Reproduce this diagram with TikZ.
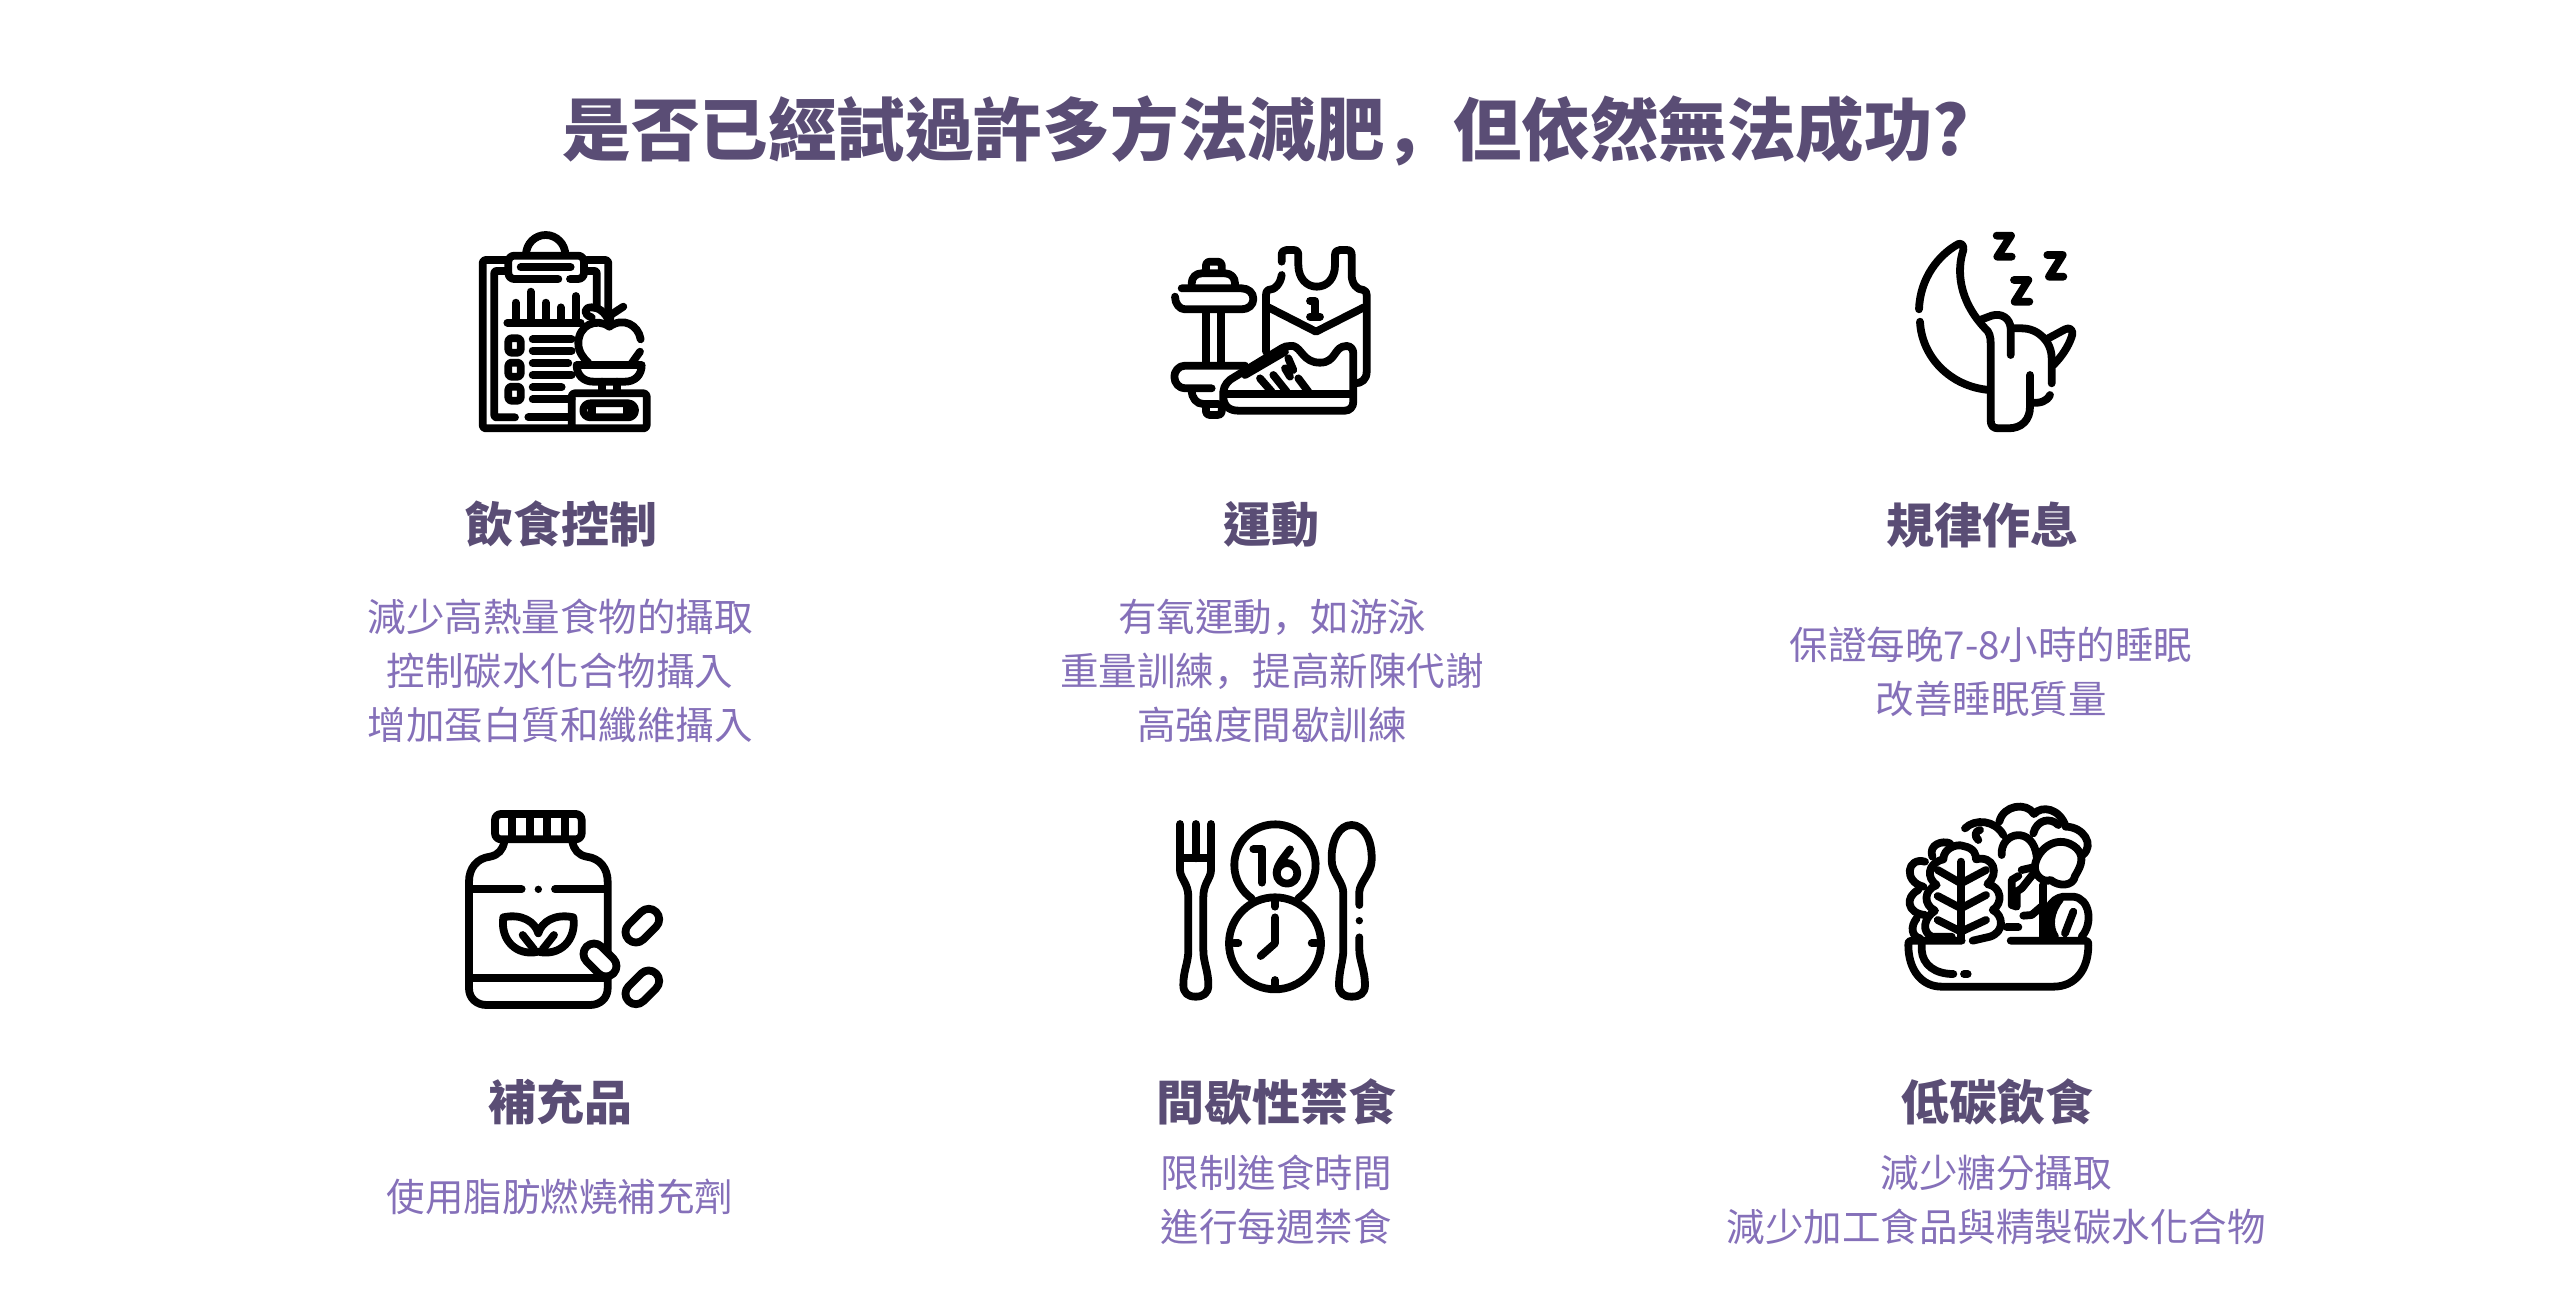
\documentclass[tikz,border=0pt]{standalone}
\usepackage{fontspec}
\usetikzlibrary{shapes.misc}
\setmainfont{Noto Sans CJK TC}
\newfontfamily\scfont{Noto Sans CJK SC}
\newcommand{\fwcomma}{{\scfont\char"FF0C}}
\definecolor{titlec}{HTML}{5A4D75}
\definecolor{bodyc}{HTML}{8570B9}
\tikzset{
 ttl/.style={font=\fontsize{68.5}{80}\selectfont\bfseries,text=titlec,anchor=center,inner sep=0},
 hd/.style={font=\fontsize{48}{56}\selectfont\bfseries,text=titlec,anchor=center,inner sep=0},
 bd/.style={font=\fontsize{38.5}{54}\selectfont,text=bodyc,anchor=center,inner sep=0,align=center},
 ic/.style={line width=7.8pt,line cap=round,line join=round,black},
 zoomed/.style={x=.33333pt,y=-.33333pt},
 pill/.style={draw=black,line width=7.8pt,fill=white,rounded rectangle,inner sep=0,minimum height=21pt,minimum width=#1},
}
\begin{document}
\begin{tikzpicture}[x=1pt,y=-1pt]
\useasboundingbox (0,0) rectangle (2560,1290);
\fill[white] (0,0) rectangle (2560,1290);
\node[ttl] (title) at (1266,131) {是否已經試過許多方法減肥\fwcomma 但依然無法成功?};
\node[hd] (h1) at (561,524) {飲食控制};
\node[hd] (h2) at (1271,524) {運動};
\node[hd] (h3) at (1982,525) {規律作息};
\node[hd] (h4) at (560,1102) {補充品};
\node[hd] (h5) at (1276,1102) {間歇性禁食};
\node[hd] (h6) at (1997,1102) {低碳飲食};
\node[bd] (b1) at (560,671) {減少高熱量食物的攝取\\控制碳水化合物攝入\\增加蛋白質和纖維攝入};
\node[bd] (b2) at (1272,671) {有氧運動\fwcomma 如游泳\\重量訓練\fwcomma 提高新陳代謝\\高強度間歇訓練};
\node[bd] (b3) at (1991,672) {保證每晚7-8小時的睡眠\\改善睡眠質量};
\node[bd] (b4) at (560,1197) {使用脂肪燃燒補充劑};
\node[bd] (b5) at (1276,1200) {限制進食時間\\進行每週禁食};
\node[bd] (b6) at (1996,1200) {減少糖分攝取\\減少加工食品與精製碳水化合物};
% icon 1
\begin{scope}[xshift=450pt,yshift=-210pt,zoomed,ic]
\draw[rounded corners=3pt] (167,150)--(98,150)--(98,655)--(590,655)--(590,550)--(365,550)--(365,655);
\draw[rounded corners=3pt] (410,150)--(475,150)--(475,300);
\draw[rounded corners=6pt] (325,207)--(175,207)--(175,137)--(402,137)--(402,207)--(360,207);
\draw (228,135) arc[start angle=180,end angle=360,x radius=59,y radius=60];
\draw (212,172)--(362,172);
\draw[rounded corners=2pt] (165,183)--(133,183)--(133,622)--(195,622);
\draw (235,622)--(360,622);
\draw[rounded corners=2pt] (410,183)--(440,183)--(440,290);
\draw (172,338)--(392,338);
\draw (197,278)--(197,338) (242,245)--(242,338) (287,278)--(287,338) (332,292)--(332,338) (377,258)--(377,338);
\draw[rounded corners=3pt] (175,385) rectangle (212,428) (175,458) rectangle (212,500) (175,530) rectangle (212,572);
\draw (248,388)--(365,388) (248,422)--(365,422) (248,460)--(355,460) (248,495)--(365,495) (248,532)--(335,532) (248,568)--(365,568);
\draw (572,388) .. controls (565,345) and (520,320) .. (478,350) .. controls (440,322) and (385,345) .. (385,400) .. controls (385,425) and (400,445) .. (415,458);
\draw (570,425)--(545,460);
\draw (425,322) .. controls (400,315) and (400,292) .. (425,292) .. controls (445,292) and (465,305) .. (478,335);
\draw (478,345)--(482,315)--(520,290);
\draw (380,465)--(575,465) .. controls (575,495) and (555,515) .. (525,515) -- (430,515) .. controls (400,515) and (380,495) .. (380,465);
\draw (455,515)--(455,545) (500,515)--(500,545);
\draw (421,580)--(534,580) arc[start angle=-90,end angle=90,radius=21] --(421,622) arc[start angle=90,end angle=270,radius=21];
\draw (427,582)--(427,620) (530,582)--(530,620);
\end{scope}
% icon 2
\begin{scope}[xshift=1160pt,yshift=-220pt,zoomed,ic]
\draw (365,125)--(365,105) .. controls (365,95) and (372,90) .. (380,90) -- (400,90) .. controls (410,90) and (415,95) .. (415,105) -- (415,135) .. controls (415,175) and (440,200) .. (470,200) .. controls (502,200) and (525,175) .. (525,135) -- (525,105) .. controls (525,95) and (532,90) .. (540,90)--(560,90) .. controls (570,90) and (575,95) .. (575,105)--(575,165) .. controls (575,190) and (590,210) .. (610,210) .. controls (618,212) and (620,218) .. (620,225) -- (620,455) .. controls (620,478) and (605,490) .. (585,490);
\draw (365,165) .. controls (362,190) and (345,210) .. (325,210) .. controls (320,212) and (318,218) .. (318,225)--(318,395);
\draw (325,262)--(468,335)--(612,262);
\draw (450,243)--(466,243)--(466,290) (450,290)--(480,290);
\draw (190,545)--(190,515) .. controls (192,495) and (205,480) .. (225,470)--(365,385) .. controls (372,380) and (380,378) .. (390,378)--(400,378) .. controls (425,385) and (430,428) .. (480,428) .. controls (530,428) and (520,378) .. (560,378) .. controls (572,378) and (580,388) .. (580,400)--(580,545) .. controls (580,560) and (570,572) .. (555,572)--(235,572) .. controls (210,572) and (190,560) .. (190,530);
\draw (192,522)--(575,522);
\draw (255,465)--(375,395);
\draw (300,475)--(335,515) (340,465)--(380,515) (375,445)--(390,470) (415,475)--(445,515) (385,415)--(400,450);
\draw (65,205)--(245,205) .. controls (265,205) and (280,218) .. (280,237) .. controls (280,255) and (265,268) .. (245,268)--(75,268) .. controls (58,268) and (45,250) .. (45,230);
\draw (95,200)--(95,190) .. controls (95,172) and (108,160) .. (125,160)--(195,160) .. controls (212,160) and (225,172) .. (225,190)--(225,200);
\draw (138,155)--(138,135) .. controls (138,128) and (143,125) .. (150,125)--(172,125) .. controls (180,125) and (185,128) .. (185,135)--(185,155);
\draw (138,270)--(138,430) (183,270)--(183,430);
\draw (255,437)--(75,437) .. controls (55,437) and (43,455) .. (43,470) .. controls (43,490) and (58,505) .. (75,505)--(155,505);
\draw (95,510) .. controls (95,535) and (110,552) .. (130,552)--(175,552);
\draw (138,555)--(138,575) .. controls (138,582) and (143,585) .. (150,585)--(172,585) .. controls (180,585) and (185,582) .. (185,575)--(185,555);
\end{scope}
% icon 3
\begin{scope}[xshift=1900pt,yshift=-220pt,zoomed,ic]
\draw (57,268) .. controls (60,175) and (115,105) .. (175,72) .. controls (185,68) and (192,78) .. (190,90) .. controls (170,150) and (175,240) .. (255,325) .. controls (268,335) and (272,350) .. (272,370)--(272,600) .. controls (272,618) and (280,625) .. (295,625)--(325,625) .. controls (365,625) and (390,600) .. (390,560)--(390,465);
\draw (60,305) .. controls (65,410) and (150,500) .. (268,510);
\draw (240,300)--(275,287) .. controls (305,278) and (330,295) .. (332,325)--(332,405);
\draw (335,325)--(365,325) .. controls (415,325) and (455,365) .. (455,415)--(455,490);
\draw (395,548) .. controls (420,550) and (440,545) .. (450,525);
\draw (445,355)--(495,328) .. controls (510,320) and (522,330) .. (515,350) .. controls (505,380) and (485,410) .. (460,435);
\draw (290,47)--(333,47)--(292,110)--(335,110);
\draw (442,105)--(488,105)--(447,170)--(490,170);
\draw (342,180)--(385,180)--(344,245)--(388,245);
\end{scope}
% icon 4
\begin{scope}[xshift=450pt,yshift=-800pt,zoomed,ic]
\draw[rounded corners=6pt] (135,42) rectangle (395,118);
\draw (187,45)--(187,115) (240,45)--(240,115) (292,45)--(292,115) (345,45)--(345,115);
\draw (163,125) .. controls (158,150) and (145,165) .. (120,170) .. controls (80,175) and (57,205) .. (57,245)--(57,565) .. controls (57,595) and (80,615) .. (110,615)--(420,615) .. controls (450,615) and (473,595) .. (473,565)--(473,245) .. controls (473,205) and (450,175) .. (410,170) .. controls (385,165) and (372,150) .. (367,125);
\draw (60,268)--(215,268) (315,268)--(470,268) (60,535)--(473,535);
\fill (265,268) circle[radius=11];
\draw (265,455) .. controls (200,470) and (150,420) .. (160,352) .. controls (215,340) and (255,365) .. (265,400) .. controls (275,365) and (315,340) .. (370,352) .. controls (380,420) and (330,470) .. (265,455);
\draw (218,405)--(252,448) (312,405)--(278,448);
\node[pill=38pt,rotate=-45] (p1) at (450,480) {};
\node[pill=39pt,rotate=45] (p2) at (577,377) {};
\node[pill=39pt,rotate=45] (p3) at (577,562) {};
\end{scope}
% icon 5
\begin{scope}[xshift=1160pt,yshift=-810pt,zoomed,ic]
\draw (60,42)--(60,180) .. controls (60,205) and (85,220) .. (85,260)--(85,420) .. controls (85,460) and (70,480) .. (70,525) .. controls (70,550) and (85,560) .. (107,560) .. controls (130,560) and (145,550) .. (145,525) .. controls (145,480) and (130,460) .. (130,420)--(130,260) .. controls (130,220) and (153,205) .. (153,180)--(153,42);
\draw (107,42)--(107,145) (60,145)--(153,145);
\draw (275,265) arc[start angle=125,end angle=415,radius=122];
\draw (280,118)--(305,118)--(305,218);
\draw (390,118) .. controls (370,145) and (350,165) .. (350,190);
\draw (381,190) circle[radius=31];
\draw (345,400) circle[radius=138];
\draw (345,275)--(345,290) (345,510)--(345,525) (222,400)--(235,400) (455,400)--(468,400);
\draw (345,322)--(345,400)--(302,438);
\draw (598,285)--(598,245) .. controls (600,215) and (635,190) .. (635,150) .. controls (637,90) and (612,45) .. (575,45) .. controls (538,45) and (513,90) .. (515,150) .. controls (515,190) and (550,215) .. (550,250)--(550,420) .. controls (550,450) and (537,480) .. (537,525) .. controls (537,550) and (552,560) .. (575,560) .. controls (600,560) and (615,550) .. (615,525) .. controls (615,480) and (598,450) .. (598,420)--(598,382);
\fill (598,332) circle[radius=11];
\end{scope}
% icon 6
\begin{scope}[xshift=1900pt,yshift=-790pt,zoomed,ic]
\draw (332,452)--(555,452) .. controls (562,452) and (565,455) .. (565,465) .. controls (565,540) and (525,590) .. (460,590)--(125,590) .. controls (65,590) and (25,540) .. (25,465) .. controls (25,455) and (28,452) .. (35,452)--(185,452);
\draw (65,455)--(65,480) .. controls (68,525) and (105,552) .. (160,552);
\draw (192,552)--(203,552);
\draw (183,215)--(183,445);
\draw (113,240)--(183,280)--(258,240) (113,318)--(183,355)--(258,315) (113,390)--(183,425)--(258,390);
\draw (155,440) -- (95,440) .. controls (65,425) and (70,385) .. (105,362) .. controls (70,345) and (70,300) .. (110,285) .. controls (80,265) and (80,220) .. (130,208) .. controls (130,175) and (170,160) .. (190,168) .. controls (225,175) and (228,195) .. (228,208) .. controls (280,195) and (300,250) .. (262,282) .. controls (305,290) and (310,340) .. (278,360) .. controls (310,375) and (315,425) .. (270,440)--(218,452);
\draw (97,200) .. controls (85,165) and (125,150) .. (150,160);
\draw (75,215) .. controls (20,200) and (10,275) .. (70,290);
\draw (55,300) .. controls (15,320) and (20,370) .. (75,375);
\draw (50,385) .. controls (30,410) and (35,440) .. (60,445);
\draw (195,115) .. controls (225,85) and (285,90) .. (310,135);
\draw (298,95) .. controls (310,45) and (380,35) .. (402,72) .. controls (425,45) and (480,55) .. (497,110) .. controls (550,110) and (585,165) .. (548,195);
\draw (305,195) .. controls (300,125) and (400,105) .. (410,200);
\draw (400,130) .. controls (410,90) and (450,80) .. (475,105);
\draw (405,225) .. controls (415,170) and (480,130) .. (530,175) .. controls (560,205) and (535,240) .. (525,258) .. controls (520,290) and (475,290) .. (452,270) .. controls (430,280) and (400,255) .. (405,225);
\draw (365,240)--(400,232);
\draw (405,245)--(365,295)--(350,305)--(350,350)--(335,345)--(335,270)--(355,258);
\draw (430,285)--(430,440);
\draw (370,377)--(395,375)--(430,345);
\draw (320,412)--(355,412);
\draw (445,440) .. controls (425,370) and (450,325) .. (490,320)--(520,320) .. controls (570,325) and (580,400) .. (545,440);
\draw (480,328) .. controls (450,365) and (445,410) .. (465,440);
\draw (520,365)--(495,430);
\draw (240,120) .. controls (225,122) and (222,140) .. (235,150);
\end{scope}
\end{tikzpicture}
\end{document}
